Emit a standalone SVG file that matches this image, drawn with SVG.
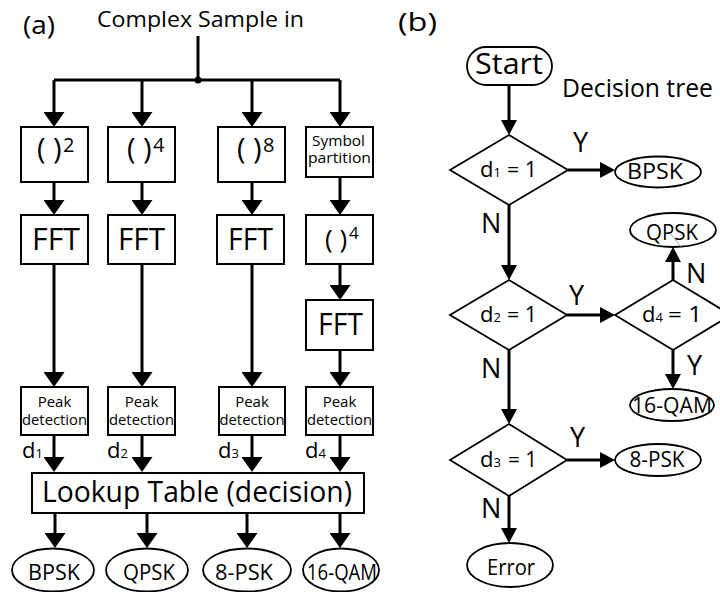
<svg xmlns="http://www.w3.org/2000/svg" width="720" height="592" viewBox="0 0 720 592">
<defs>
<style>
text{font-family:"Open Sans","Liberation Sans",sans-serif;fill:#000}
.box{fill:#fff;stroke:#000;stroke-width:2}
.ell{fill:#fff;stroke:#000;stroke-width:1.8}
.dia{fill:#fff;stroke:#000;stroke-width:1.8}
.cl{fill:none;stroke:#000;stroke-width:3}
.aL{marker-end:url(#ahL)}
.aR{marker-end:url(#ahR)}
.lbl{font-size:27px}
.et{font-size:22px;text-anchor:middle}
.pk{font-size:15px;text-anchor:middle}
</style>
<marker id="ahL" markerUnits="userSpaceOnUse" viewBox="0 0 15 21" refX="0" refY="10.5" markerWidth="15" markerHeight="21" orient="auto"><path d="M0,0 L15,10.5 L0,21 z" fill="#000"/></marker>
<marker id="ahR" markerUnits="userSpaceOnUse" viewBox="0 0 15 16" refX="0" refY="8" markerWidth="15" markerHeight="16" orient="auto"><path d="M0,0 L15,8 L0,16 z" fill="#000"/></marker>
</defs>
<rect width="720" height="592" fill="#fff"/>

<g id="connectors">
<path class="cl" d="M198,36 V80"/>
<path class="cl" d="M54,80 H340"/>
<circle cx="198" cy="80" r="3.5" fill="#000"/>
<path class="cl aL" d="M54,80 V112"/>
<path class="cl aL" d="M142,80 V112"/>
<path class="cl aL" d="M252,80 V112"/>
<path class="cl aL" d="M340,80 V112"/>
<path class="cl aL" d="M54,182 V200"/>
<path class="cl aL" d="M142,182 V200"/>
<path class="cl aL" d="M252,182 V200"/>
<path class="cl aL" d="M340,177 V200"/>
<path class="cl aL" d="M54,264 V372"/>
<path class="cl aL" d="M142,264 V372"/>
<path class="cl aL" d="M252,264 V372"/>
<path class="cl aL" d="M340,264 V285"/>
<path class="cl aL" d="M340,350 V372"/>
<path class="cl aL" d="M54,435 V457"/>
<path class="cl aL" d="M142,435 V457"/>
<path class="cl aL" d="M252,435 V457"/>
<path class="cl aL" d="M340,435 V457"/>
<path class="cl aL" d="M55,513 V533"/>
<path class="cl aL" d="M147,513 V533"/>
<path class="cl aL" d="M247,513 V533"/>
<path class="cl aL" d="M340,513 V533"/>

<path class="cl aR" d="M509,85 V120"/>
<path class="cl aR" d="M568,170 H600"/>
<path class="cl aR" d="M509,205 V265"/>
<path class="cl aR" d="M567,315 H600"/>
<path class="cl aR" d="M673,280 V262"/>
<path class="cl aR" d="M673,350 V374"/>
<path class="cl aR" d="M509,350 V409"/>
<path class="cl aR" d="M567,460 H600"/>
<path class="cl aR" d="M509,496 V528"/>
</g>

<g id="labels-a">
<text x="23" y="34" font-size="25" textLength="32" lengthAdjust="spacingAndGlyphs">(a)</text>
<text x="97" y="27" font-size="22" textLength="207" lengthAdjust="spacingAndGlyphs">Complex Sample in</text>
<text x="22" y="458" font-size="22">d<tspan font-size="13">1</tspan></text>
<text x="107" y="458" font-size="22">d<tspan font-size="13">2</tspan></text>
<text x="218" y="458" font-size="22">d<tspan font-size="13">3</tspan></text>
<text x="305" y="458" font-size="22">d<tspan font-size="13">4</tspan></text>
</g>

<g id="sq2"><rect class="box" x="21" y="127" width="67" height="55"/>
<text font-size="29"><tspan x="37" y="159">( )</tspan><tspan x="63" y="152" font-size="20">2</tspan></text></g>
<g id="sq4"><rect class="box" x="108" y="127" width="67" height="55"/>
<text font-size="29"><tspan x="127" y="159">( )</tspan><tspan x="153" y="152" font-size="20">4</tspan></text></g>
<g id="sq8"><rect class="box" x="218" y="127" width="67" height="55"/>
<text font-size="29"><tspan x="237" y="159">( )</tspan><tspan x="263" y="152" font-size="20">8</tspan></text></g>
<g id="symp"><rect class="box" x="306" y="127" width="67" height="50"/>
<text x="312" y="146" font-size="14.5" textLength="53" lengthAdjust="spacingAndGlyphs">Symbol</text>
<text x="308" y="163" font-size="14.5" textLength="63" lengthAdjust="spacingAndGlyphs">partition</text></g>

<g id="fft1"><rect class="box" x="21" y="215" width="67" height="49"/>
<text x="32" y="250" font-size="31" textLength="48" lengthAdjust="spacingAndGlyphs">FFT</text></g>
<g id="fft2"><rect class="box" x="108" y="215" width="67" height="49"/>
<text x="118" y="250" font-size="31" textLength="47" lengthAdjust="spacingAndGlyphs">FFT</text></g>
<g id="fft3"><rect class="box" x="217" y="215" width="67" height="49"/>
<text x="228" y="250" font-size="31" textLength="45" lengthAdjust="spacingAndGlyphs">FFT</text></g>
<g id="sq4b"><rect class="box" x="306" y="215" width="67" height="49"/>
<text font-size="26"><tspan x="325" y="248">( )</tspan><tspan x="349" y="239" font-size="17">4</tspan></text></g>
<g id="fft4"><rect class="box" x="306" y="300" width="67" height="50"/>
<text x="318" y="335" font-size="31" textLength="45" lengthAdjust="spacingAndGlyphs">FFT</text></g>

<g id="peak1"><rect class="box" x="21" y="387" width="67" height="48"/>
<text class="pk" x="54.5" y="407">Peak</text><text class="pk" x="54.5" y="425" textLength="65" lengthAdjust="spacingAndGlyphs">detection</text></g>
<g id="peak2"><rect class="box" x="108" y="387" width="67" height="48"/>
<text class="pk" x="141.5" y="407">Peak</text><text class="pk" x="141.5" y="425" textLength="65" lengthAdjust="spacingAndGlyphs">detection</text></g>
<g id="peak3"><rect class="box" x="219" y="387" width="66" height="48"/>
<text class="pk" x="252" y="407">Peak</text><text class="pk" x="252" y="425" textLength="65" lengthAdjust="spacingAndGlyphs">detection</text></g>
<g id="peak4"><rect class="box" x="306" y="387" width="67" height="48"/>
<text class="pk" x="339.5" y="407">Peak</text><text class="pk" x="339.5" y="425" textLength="65" lengthAdjust="spacingAndGlyphs">detection</text></g>

<g id="lookup"><rect class="box" x="32" y="473" width="332" height="40"/>
<text x="42" y="502" font-size="29" textLength="310" lengthAdjust="spacingAndGlyphs">Lookup Table (decision)</text></g>

<g id="outA1"><ellipse class="ell" cx="53" cy="570" rx="41" ry="21.5"/><text class="et" x="54" y="580" textLength="52" lengthAdjust="spacingAndGlyphs">BPSK</text></g>
<g id="outA2"><ellipse class="ell" cx="147" cy="570" rx="41" ry="21.5"/><text class="et" x="149" y="580" textLength="52" lengthAdjust="spacingAndGlyphs">QPSK</text></g>
<g id="outA3"><ellipse class="ell" cx="247" cy="570" rx="44" ry="21.5"/><text class="et" x="244" y="580" textLength="58" lengthAdjust="spacingAndGlyphs">8-PSK</text></g>
<g id="outA4"><ellipse class="ell" cx="341" cy="570" rx="38" ry="21.5"/><text class="et" x="342" y="580" textLength="70" lengthAdjust="spacingAndGlyphs">16-QAM</text></g>

<g id="labels-b">
<text x="398" y="31" font-size="25" textLength="39" lengthAdjust="spacingAndGlyphs">(b)</text>
<text x="562" y="97" font-size="26" textLength="151" lengthAdjust="spacingAndGlyphs">Decision tree</text>
<text class="lbl" x="573" y="152">Y</text>
<text class="lbl" x="481" y="233">N</text>
<text class="lbl" x="569" y="305">Y</text>
<text class="lbl" x="686" y="283">N</text>
<text class="lbl" x="687" y="375">Y</text>
<text class="lbl" x="481" y="378">N</text>
<text class="lbl" x="570" y="447">Y</text>
<text class="lbl" x="481" y="518">N</text>
</g>

<g id="start"><rect class="ell" x="467" y="47" width="85" height="38" rx="19"/>
<text x="475" y="74" font-size="29" textLength="68" lengthAdjust="spacingAndGlyphs">Start</text></g>

<g id="dec1"><polygon class="dia" points="509,135 568,170 509,205 450,170"/>
<text y="177" font-size="22"><tspan x="480">d</tspan><tspan font-size="13">1</tspan><tspan x="507" textLength="30" lengthAdjust="spacingAndGlyphs">= 1</tspan></text></g>
<g id="dec2"><polygon class="dia" points="509,280 567,315 509,350 450,315"/>
<text y="322" font-size="22"><tspan x="480">d</tspan><tspan font-size="13">2</tspan><tspan x="507" textLength="30" lengthAdjust="spacingAndGlyphs">= 1</tspan></text></g>
<g id="dec4"><polygon class="dia" points="673,280 731,315 673,350 615,315"/>
<text y="322" font-size="22"><tspan x="642">d</tspan><tspan font-size="13">4</tspan><tspan x="668" textLength="34" lengthAdjust="spacingAndGlyphs">= 1</tspan></text></g>
<g id="dec3"><polygon class="dia" points="509,424 567,460 509,496 450,460"/>
<text y="467" font-size="22"><tspan x="480">d</tspan><tspan font-size="13">3</tspan><tspan x="508" textLength="29" lengthAdjust="spacingAndGlyphs">= 1</tspan></text></g>

<g id="outB1"><ellipse class="ell" cx="658" cy="172" rx="43" ry="15.5"/><text class="et" x="655" y="179" textLength="56" lengthAdjust="spacingAndGlyphs">BPSK</text></g>
<g id="outB2"><ellipse class="ell" cx="673" cy="230" rx="43" ry="17"/><text class="et" x="672" y="240" textLength="52" lengthAdjust="spacingAndGlyphs">QPSK</text>
<line x1="670" y1="233" x2="682" y2="248" stroke="#777" stroke-width="0.7"/></g>
<g id="outB3"><ellipse class="ell" cx="672" cy="405" rx="42" ry="16"/><text class="et" x="672" y="413" textLength="80" lengthAdjust="spacingAndGlyphs">16-QAM</text></g>
<g id="outB4"><ellipse class="ell" cx="658" cy="460" rx="43" ry="16"/><text class="et" x="657" y="467" textLength="55" lengthAdjust="spacingAndGlyphs">8-PSK</text></g>
<g id="err"><ellipse class="ell" cx="510" cy="565" rx="43" ry="22"/><text class="et" x="511" y="575" font-size="22" textLength="48" lengthAdjust="spacingAndGlyphs">Error</text></g>
</svg>
